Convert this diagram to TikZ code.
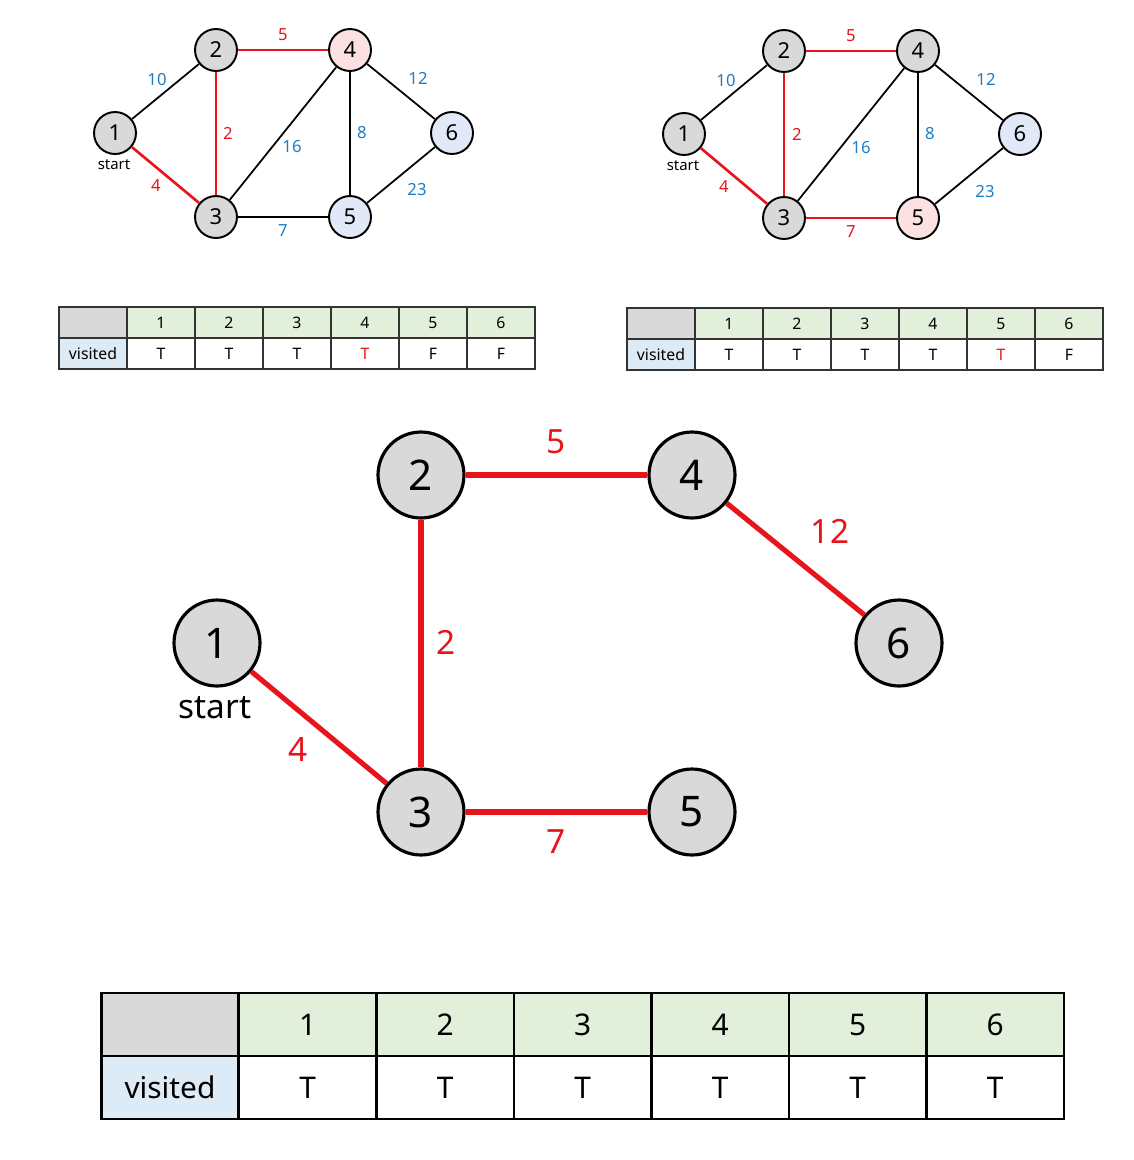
\documentclass[tikz,border=0pt]{standalone}
\usepackage{fontspec}
\setmainfont{Noto Sans}
\definecolor{gred}{HTML}{E8141C}
\definecolor{wblue}{HTML}{1F7DC4}
\definecolor{vgrey}{HTML}{D9D9D9}
\definecolor{vpink}{HTML}{FBE1E1}
\definecolor{vblue}{HTML}{E1E8F7}
\definecolor{hgreen}{HTML}{E2EFDA}
\definecolor{cblue}{HTML}{DDEBF7}
\definecolor{tline}{HTML}{333333}
\begin{document}
\begin{tikzpicture}[x=0.02cm,y=-0.02cm,
  sv/.style={circle,draw,line width=1.1pt,fill=vgrey,minimum size=0.84cm,inner sep=0pt,font=\fontsize{12.5}{12.5}\selectfont},
  bv/.style={circle,draw,line width=1.8pt,fill=vgrey,minimum size=1.72cm,inner sep=0pt,font=\fontsize{24}{24}\selectfont},
  blk/.style={draw=black,line width=1pt},
  rdl/.style={draw=gred,line width=1.5pt},
  brd/.style={draw=gred,line width=2.9pt},
  wl/.style={text=wblue,font=\fontsize{9.5}{9.5}\selectfont,inner sep=0pt},
  rl/.style={text=gred,font=\fontsize{9.5}{9.5}\selectfont,inner sep=0pt},
  brl/.style={text=gred,font=\fontsize{19}{19}\selectfont,inner sep=0pt},
  stl/.style={font=\fontsize{8.5}{8.5}\selectfont,inner sep=0pt},
  cell/.style={draw=tline,line width=0.8pt,minimum width=1.36cm,minimum height=0.62cm,inner sep=0pt,font=\fontsize{9}{9}\selectfont},
  bcell/.style={draw=black,line width=1.6pt,minimum width=2.75cm,minimum height=1.26cm,inner sep=0pt,font=\fontsize{17}{17}\selectfont},
]
\useasboundingbox (0,0) rectangle (1133,1160);

% ---------- top-left graph ----------
\node[sv] (a1) at (115,133) {1};
\node[sv] (a2) at (216,50) {2};
\node[sv,fill=vpink] (a4) at (350,50) {4};
\node[sv] (a3) at (216,217) {3};
\node[sv,fill=vblue] (a5) at (350,217) {5};
\node[sv,fill=vblue] (a6) at (452,133) {6};
\draw[blk] (a1) -- (a2);
\draw[blk] (a3) -- (a4);
\draw[blk] (a4) -- (a5);
\draw[blk] (a4) -- (a6);
\draw[blk] (a3) -- (a5);
\draw[blk] (a5) -- (a6);
\draw[rdl] (a2) -- (a4);
\draw[rdl] (a2) -- (a3);
\draw[rdl] (a1) -- (a3);
\node[wl] (a-w10) at (157,80) {10};
\node[rl] (a-w5) at (283,35) {5};
\node[wl] (a-w12) at (418,78) {12};
\node[rl] (a-w2) at (228,133) {2};
\node[wl] (a-w16) at (292,147) {16};
\node[wl] (a-w8) at (362,133) {8};
\node[rl] (a-w4) at (156,186) {4};
\node[wl] (a-w23) at (417,190) {23};
\node[wl] (a-w7) at (283,231) {7};
\node[stl] (a-st) at (114,165) {start};

% ---------- top-right graph ----------
\node[sv] (b1) at (684,134) {1};
\node[sv] (b2) at (784,51) {2};
\node[sv] (b4) at (918,51) {4};
\node[sv] (b3) at (784,218) {3};
\node[sv,fill=vpink] (b5) at (918,218) {5};
\node[sv,fill=vblue] (b6) at (1020,134) {6};
\draw[blk] (b1) -- (b2);
\draw[blk] (b3) -- (b4);
\draw[blk] (b4) -- (b5);
\draw[blk] (b4) -- (b6);
\draw[blk] (b5) -- (b6);
\draw[rdl] (b2) -- (b4);
\draw[rdl] (b2) -- (b3);
\draw[rdl] (b1) -- (b3);
\draw[rdl] (b3) -- (b5);
\node[wl] (b-w10) at (726,81) {10};
\node[rl] (b-w5) at (851,36) {5};
\node[wl] (b-w12) at (986,79) {12};
\node[rl] (b-w2) at (797,134) {2};
\node[wl] (b-w16) at (861,148) {16};
\node[wl] (b-w8) at (930,134) {8};
\node[rl] (b-w4) at (724,187) {4};
\node[wl] (b-w23) at (985,192) {23};
\node[rl] (b-w7) at (851,232) {7};
\node[stl] (b-st) at (683,166) {start};

% ---------- top-left table ----------
\node[cell,fill=vgrey] (ta-c) at (93,322.5) {};
\node[cell,fill=cblue] (ta-v) at (93,353.5) {visited};
\foreach \i/\v/\c in {1/T/black,2/T/black,3/T/black,4/T/gred,5/F/black,6/F/black}{
  \node[cell,fill=hgreen] (ta-h\i) at ({127+68*(\i-0.5)},322.5) {\i};
  \node[cell,fill=white,text=\c] (ta-d\i) at ({127+68*(\i-0.5)},353.5) {\v};
}

% ---------- top-right table ----------
\node[cell,fill=vgrey] (tb-c) at (661,323.5) {};
\node[cell,fill=cblue] (tb-v) at (661,354.5) {visited};
\foreach \i/\v/\c in {1/T/black,2/T/black,3/T/black,4/T/black,5/T/gred,6/F/black}{
  \node[cell,fill=hgreen] (tb-h\i) at ({695+68*(\i-0.5)},323.5) {\i};
  \node[cell,fill=white,text=\c] (tb-d\i) at ({695+68*(\i-0.5)},354.5) {\v};
}

% ---------- big graph ----------
\node[bv] (c1) at (217,643) {1};
\node[bv] (c2) at (421,475) {2};
\node[bv] (c4) at (692,475) {4};
\node[bv] (c6) at (899,643) {6};
\node[bv] (c3) at (421,812) {3};
\node[bv] (c5) at (692,812) {5};
\draw[brd] (c2) -- (c4);
\draw[brd] (c4) -- (c6);
\draw[brd] (c2) -- (c3);
\draw[brd] (c1) -- (c3);
\draw[brd] (c3) -- (c5);
\node[brl] (c-w5) at (556,442) {5};
\node[brl] (c-w12) at (830,531) {12};
\node[brl] (c-w2) at (446,642) {2};
\node[brl] (c-w4) at (298,750) {4};
\node[brl] (c-w7) at (556,842) {7};
\node[font=\fontsize{19}{19}\selectfont,inner sep=0pt] (c-st) at (215,708) {start};

% ---------- bottom table ----------
\node[bcell,fill=vgrey] (tc-c) at (170,1024.5) {};
\node[bcell,fill=cblue] (tc-v) at (170,1087.5) {visited};
\foreach \i in {1,...,6}{
  \node[bcell,fill=hgreen] (tc-h\i) at ({239+137.5*(\i-0.5)},1024.5) {\i};
  \node[bcell,fill=white] (tc-d\i) at ({239+137.5*(\i-0.5)},1087.5) {T};
}
\end{tikzpicture}
\end{document}
